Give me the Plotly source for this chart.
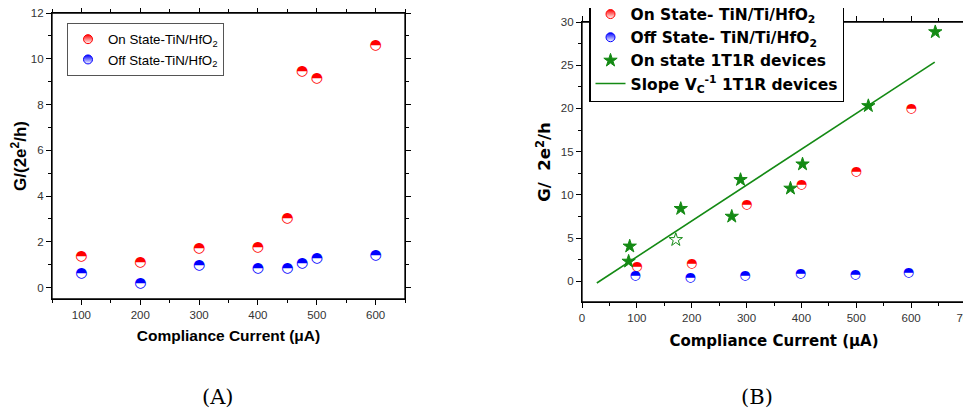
import plotly.graph_objects as go

# ---------------- Panel A data ----------------
a_on_x = [100, 200, 300, 400, 450, 475, 500, 600]
a_on_y = [1.35, 1.1, 1.7, 1.75, 3.0, 9.45, 9.15, 10.6]
a_off_x = [100, 200, 300, 400, 450, 475, 500, 600]
a_off_y = [0.62, 0.17, 0.95, 0.85, 0.85, 1.07, 1.27, 1.4]

# ---------------- Panel B data ----------------
b_on_x = [100, 200, 300, 400, 500, 600]
b_on_y = [1.7, 2.0, 8.85, 11.2, 12.65, 20.0]
b_off_x = [97, 197, 297, 398, 498, 595]
b_off_y = [0.6, 0.4, 0.6, 0.82, 0.8, 1.04]
b_1t1r_x = [87, 85, 180, 171, 273, 289, 380, 402, 522, 644]
b_1t1r_y = [4.05, 2.3, 8.4, 4.8, 7.5, 11.75, 10.75, 13.55, 20.3, 28.85]
b_fit_x = [27, 643]
b_fit_y = [-0.2, 25.35]

RED = "#ff0000"
BLUE = "#0000ff"
GREEN = "#148a14"
GLYPH = "\u25d3"  # circle with upper half black

star_symbols = ["star"] * len(b_1t1r_x)
star_symbols[3] = "star-open"

fig = go.Figure()


def half_series(x, y, color, name, xa, ya, legend, size):
    # points drawn as half-filled glyphs
    fig.add_trace(go.Scatter(
        x=x, y=y, mode="text", text=[GLYPH] * len(x),
        textposition="middle center",
        textfont=dict(family="DejaVu Sans", size=size, color=color),
        xaxis=xa, yaxis=ya, showlegend=False, hoverinfo="x+y"))
    # legend entry
    fig.add_trace(go.Scatter(
        x=[None], y=[None], mode="markers", name=name,
        marker=dict(symbol="circle", size=9, color=color,
                    gradient=dict(type="vertical", color="white"),
                    line=dict(color=color, width=1)),
        xaxis=xa, yaxis=ya, legend=legend, showlegend=True))


half_series(a_on_x, a_on_y, RED, "On State-TiN/HfO<sub>2</sub>", "x", "y", "legend", 14)
half_series(a_off_x, a_off_y, BLUE, "Off State-TiN/HfO<sub>2</sub>", "x", "y", "legend", 14)

half_series(b_on_x, b_on_y, RED, "On State- TiN/Ti/HfO<sub>2</sub>", "x2", "y2", "legend2", 13)
half_series(b_off_x, b_off_y, BLUE, "Off State- TiN/Ti/HfO<sub>2</sub>", "x2", "y2", "legend2", 13)

fig.add_trace(go.Scatter(
    x=b_1t1r_x, y=b_1t1r_y, mode="markers", name="On state 1T1R devices",
    marker=dict(symbol=star_symbols, size=10, color=GREEN, line=dict(color=GREEN, width=1)),
    xaxis="x2", yaxis="y2", legend="legend2"))

fig.add_trace(go.Scatter(
    x=b_fit_x, y=b_fit_y, mode="lines", name="Slope V<sub>C</sub><sup>-1</sup> 1T1R devices",
    line=dict(color=GREEN, width=1.6),
    xaxis="x2", yaxis="y2", legend="legend2"))

# page is offset by the default 8px body margin
OFF = 8
W, H = 971 - OFF, 415 - OFF


def px_dom_x(a, b):
    return [(a - OFF) / W, (b - OFF) / W]


def px_dom_y(top, bottom):
    return [1 - (bottom - OFF) / H, 1 - (top - OFF) / H]


def px_x(p):
    return (p - OFF) / W


def px_y(p):
    return 1 - (p - OFF) / H


TICKFONT = dict(family="Liberation Sans", size=11.5, color="#333333")

common = dict(
    showline=True, linecolor="black", linewidth=1.3, mirror="allticks",
    ticks="outside", ticklen=5, tickwidth=1.2, tickcolor="black",
    showgrid=False, zeroline=False, tickfont=TICKFONT,
    ticklabeloverflow="allow",
)

frame = dict(type="rect", x0=0, x1=1, y0=0, y1=1, layer="above",
             line=dict(color="black", width=1.3), fillcolor="rgba(0,0,0,0)")

fig.update_layout(
    width=W, height=H,
    margin=dict(l=0, r=0, t=0, b=0, autoexpand=False),
    paper_bgcolor="white", plot_bgcolor="white",
    xaxis=dict(domain=px_dom_x(52, 405), range=[50, 650], dtick=100, tick0=0,
               minor=dict(dtick=50, ticklen=3, tickcolor="black", ticks="outside"),
               title=dict(text="Compliance Current (\u03bcA)", standoff=10,
                          font=dict(family="Liberation Sans", size=15.5, color="black", weight="bold")),
               anchor="y", **common),
    yaxis=dict(domain=px_dom_y(13, 299), range=[-0.5, 12], dtick=2, tick0=0,
               minor=dict(dtick=1, ticklen=3, tickcolor="black", ticks="outside"),
               title=dict(text="G/(2e<sup>2</sup>/h)", standoff=5,
                          font=dict(family="Liberation Sans", size=17, color="black", weight="bold")),
               anchor="x", **common),
    xaxis2=dict(domain=px_dom_x(582, 966), range=[0, 700], dtick=100, tick0=0,
                minor=dict(dtick=50, ticklen=3, tickcolor="black", ticks="outside"),
                title=dict(text="Compliance Current (\u03bcA)", standoff=12,
                           font=dict(family="DejaVu Sans", size=15, color="black", weight="bold")),
                anchor="y2", **common),
    yaxis2=dict(domain=px_dom_y(22, 302), range=[-2.4, 30], dtick=5, tick0=0,
                minor=dict(dtick=2.5, ticklen=3, tickcolor="black", ticks="outside"),
                title=dict(text="G/  2e<sup>2</sup>/h", standoff=5,
                           font=dict(family="DejaVu Sans", size=16.5, color="black", weight="bold")),
                anchor="x2", **common),
    shapes=[
        dict(frame, xref="x domain", yref="y domain"),
        dict(frame, xref="x2 domain", yref="y2 domain"),
    ],
    legend=dict(x=px_x(67), y=px_y(23), xanchor="left", yanchor="top",
                bgcolor="white", bordercolor="#555555", borderwidth=1,
                font=dict(family="Liberation Sans", size=13.3, color="black"),
                tracegroupgap=0),
    legend2=dict(x=px_x(589), y=px_y(-4), xanchor="left", yanchor="top",
                 bgcolor="white", bordercolor="black", borderwidth=1.5,
                 font=dict(family="DejaVu Sans", size=15.5, color="black", weight="bold"),
                 tracegroupgap=0),
    annotations=[
        dict(text="(A)", x=px_x(218), y=px_y(397), xref="paper", yref="paper",
             xanchor="center", yanchor="middle",
             showarrow=False, font=dict(family="DejaVu Serif", size=21, color="black")),
        dict(text="(B)", x=px_x(757), y=px_y(397), xref="paper", yref="paper",
             xanchor="center", yanchor="middle",
             showarrow=False, font=dict(family="DejaVu Serif", size=21, color="black")),
    ],
    showlegend=True,
)

fig.write_html("out.html")
